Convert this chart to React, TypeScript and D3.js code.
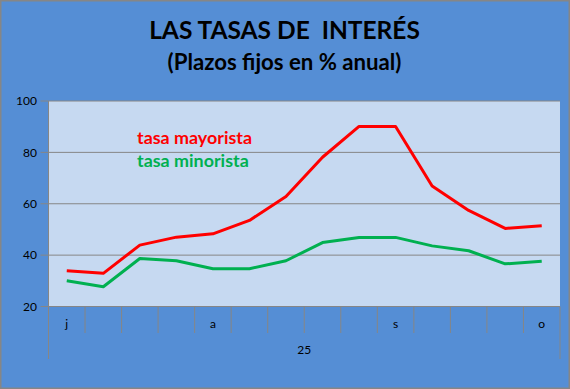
import React from "react";
import * as d3 from "d3";

const categories = ["j", "", "", "", "a", "", "", "", "", "s", "", "", "", "o"];
const yearLabel = "25";
const mayorista = [33.9, 32.9, 43.9, 47.0, 48.3, 53.5, 62.8, 78.1, 90.1, 90.1, 66.9, 57.4, 50.4, 51.4];
const minorista = [30.0, 27.7, 38.7, 37.8, 34.7, 34.7, 37.8, 44.9, 46.9, 46.9, 43.6, 41.7, 36.6, 37.6];
const yTicks = [20, 40, 60, 80, 100];
const seriesNames = ["tasa mayorista", "tasa minorista"];
const title = "LAS TASAS DE  INTERÉS";
const subtitle = "(Plazos fijos en % anual)";

const W = 570;
const H = 389;
const L = 48.5;
const R = 560;
const T = 101;
const B = 306.5;
const FONT = "Lato, 'Open Sans', sans-serif";

export default function App() {
  const x = d3
    .scaleBand<number>()
    .domain(categories.map((_, i) => i))
    .range([L, R])
    .padding(0);
  const y = d3.scaleLinear().domain([20, 100]).range([B, T]);
  const cx = (i: number) => (x(i) as number) + x.bandwidth() / 2;
  const line = d3
    .line<number>()
    .x((_, i) => cx(i))
    .y((d) => y(d));
  const gridColor = "#868686";

  return (
    <svg
      width={W}
      height={H}
      style={{ position: "fixed", left: 0, top: 0 }}
      fontFamily={FONT}
    >
      <rect x={0.75} y={0.75} width={W - 1.5} height={H - 1.5} fill="#558ED5" stroke="#868686" strokeWidth={1.5} />
      <text x={284.5} y={39.3} textAnchor="middle" fontSize={24.5} fontWeight="bold" fill="#000" style={{ whiteSpace: "pre" }}>
        {title}
      </text>
      <text x={284.5} y={70} textAnchor="middle" fontSize={22.2} fontWeight="bold" fill="#000">
        {subtitle}
      </text>

      <rect x={L} y={T} width={R - L} height={B - T} fill="#C6D9F1" />

      {yTicks.map((t) => (
        <g key={t}>
          {t > 20 && <line x1={L} x2={R} y1={y(t)} y2={y(t)} stroke={gridColor} strokeWidth={1} />}
          <line x1={L - 8} x2={L} y1={y(t)} y2={y(t)} stroke={gridColor} strokeWidth={1} />
          <text x={37} y={y(t)} dy="0.35em" textAnchor="end" fontSize={12} fill="#000">
            {t}
          </text>
        </g>
      ))}
      <line x1={L} x2={L} y1={T} y2={B} stroke={gridColor} strokeWidth={1} />
      <line x1={L} x2={R} y1={B} y2={B} stroke={gridColor} strokeWidth={1} />

      {categories.map((c, i) => (
        <g key={i}>
          {i > 0 && (
            <line
              x1={x(i) as number}
              x2={x(i) as number}
              y1={B}
              y2={333}
              stroke={gridColor}
              strokeWidth={1}
            />
          )}
          {c && (
            <text x={cx(i)} y={324} dy="0.35em" textAnchor="middle" fontSize={12} fill="#000">
              {c}
            </text>
          )}
        </g>
      ))}
      <line x1={L} x2={L} y1={B} y2={359} stroke={gridColor} strokeWidth={1} />
      <line x1={R} x2={R} y1={B} y2={359} stroke={gridColor} strokeWidth={1} />
      <text x={(L + R) / 2} y={350} dy="0.35em" textAnchor="middle" fontSize={12} fill="#000">
        {yearLabel}
      </text>

      <path d={line(minorista) || ""} fill="none" stroke="#00B050" strokeWidth={3} strokeLinejoin="round" />
      <path d={line(mayorista) || ""} fill="none" stroke="#FF0000" strokeWidth={3} strokeLinejoin="round" />

      <text x={137} y={144} fontSize={17.9} fontWeight="bold" fill="#FF0000">
        {seriesNames[0]}
      </text>
      <text x={137} y={166.7} fontSize={17.9} fontWeight="bold" fill="#00B050">
        {seriesNames[1]}
      </text>
    </svg>
  );
}
